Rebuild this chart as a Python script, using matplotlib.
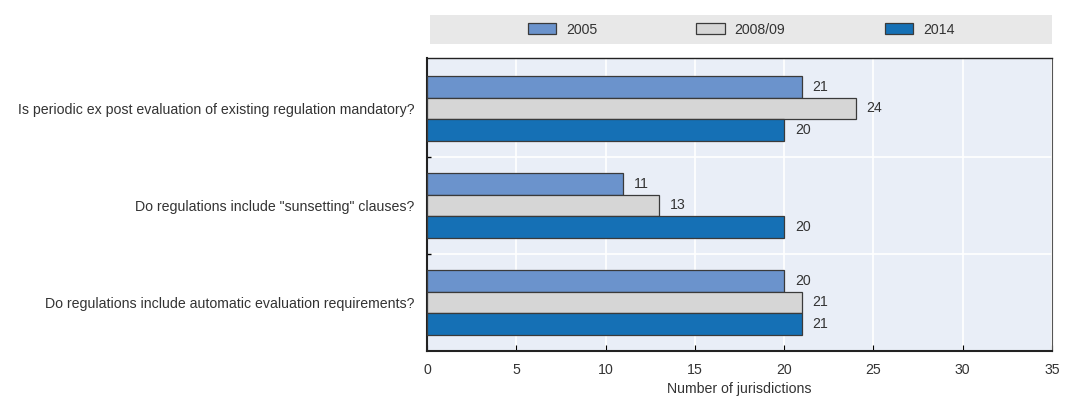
import matplotlib
matplotlib.use("Agg")
import matplotlib.pyplot as plt
from matplotlib.patches import Patch
import numpy as np

plt.rcParams['font.family'] = ['Liberation Sans', 'DejaVu Sans']

questions = [
    "Is periodic ex post evaluation of existing regulation mandatory?",
    'Do regulations include "sunsetting" clauses?',
    "Do regulations include automatic evaluation requirements?",
]
years = ["2005", "2008/09", "2014"]
v2005 = [21, 11, 20]
v2008 = [24, 13, 21]
v2014 = [20, 20, 21]
colors = ["#6b93cc", "#d6d6d6", "#1570b5"]
fs = 10.2

fig = plt.figure(figsize=(10.65, 3.98), dpi=100)
ax = fig.add_axes([427/1065, 1 - 351/398, 625/1065, 293/398])
ax.set_facecolor("#e9eef7")

y = np.arange(len(questions))
h = 0.222
for k, (vals, c) in enumerate(zip([v2005, v2008, v2014], colors)):
    pos = y + (k - 1) * h
    ax.barh(pos, vals, height=h, color=c, edgecolor="#3a3a3a", linewidth=0.9, zorder=3)
    for p, v in zip(pos, vals):
        ax.text(v + 0.6, p, str(v), va="center", ha="left", fontsize=fs, color="#333333")

ax.set_xlim(0, 35)
ax.set_ylim(2.5, -0.52)
ax.set_xticks(np.arange(0, 36, 5))
ax.set_yticks(y)
ax.set_yticklabels(questions, fontsize=fs, color="#333333")
ax.set_yticks([0.5, 1.5], minor=True)
ax.tick_params(axis="y", which="major", length=0, pad=9)
ax.tick_params(axis="y", which="minor", length=3, direction="in", width=1)
ax.tick_params(axis="x", length=4, direction="in", labelsize=fs, labelcolor="#333333", pad=9)
ax.grid(axis="x", color="white", linewidth=1.2, zorder=1)
ax.grid(axis="y", which="minor", color="white", linewidth=1.2, zorder=1)
for s in ax.spines.values():
    s.set_color("#222222")
    s.set_linewidth(1.5)
ax.spines["top"].set_linewidth(1.0)
ax.spines["right"].set_linewidth(0.8)
ax.spines["right"].set_color("#555555")
ax.set_xlabel("Number of jurisdictions", fontsize=fs, color="#333333", labelpad=3)

# legend band
lax = fig.add_axes([430/1065, 1 - 44/398, 622/1065, 29/398])
lax.set_facecolor("#e8e8e8")
lax.set_xticks([])
lax.set_yticks([])
for s in lax.spines.values():
    s.set_visible(False)
handles = [Patch(facecolor=c, edgecolor="#3a3a3a", linewidth=0.9) for c in colors]
lax.legend(handles, years, loc="center", ncol=3, frameon=False, fontsize=fs,
           handlelength=2.0, handleheight=0.9, columnspacing=7.0, handletextpad=0.7,
           labelcolor="#333333")

fig.savefig("out.png", dpi=100)
